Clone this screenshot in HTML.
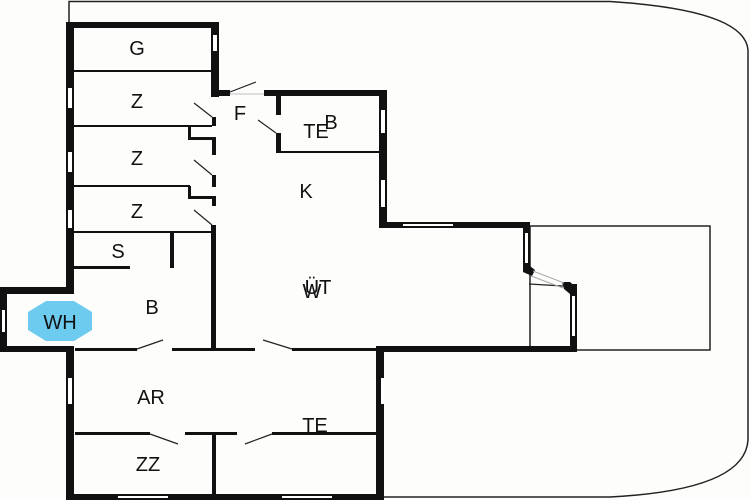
<!DOCTYPE html>
<html><head><style>body{margin:0;background:#fdfdfc}svg{display:block}text{font-family:"Liberation Sans",sans-serif;font-size:20px;fill:#111;text-anchor:middle}</style></head>
<body>
<svg width="750" height="500" viewBox="0 0 750 500" xmlns="http://www.w3.org/2000/svg">
<rect width="750" height="500" fill="#fdfdfc"/>
<g fill="none" stroke="#222" stroke-width="1.5">
<path d="M69,22 V1.5 H610 Q745,10 748,50 V440 Q745,490 610,497 H382"/>
<rect x="530" y="226" width="180" height="124"/>
</g>
<g fill="#111">
<rect x="66" y="22" width="8" height="272"/>
<rect x="66" y="346" width="8" height="154"/>
<rect x="66" y="22" width="153" height="6"/>
<rect x="211" y="22" width="8" height="75"/>
<rect x="211" y="90" width="19" height="6"/>
<rect x="264" y="90" width="123" height="6"/>
<rect x="379" y="90" width="8" height="138"/>
<rect x="379" y="222" width="151" height="6"/>
<rect x="523" y="222" width="7" height="48"/>
<polygon points="523,266 530,266 535,270 532,276 523,272"/>
<polygon points="562,282 570,282 577,288 577,294 570,294 564,289"/>
<rect x="570" y="284" width="7" height="68"/>
<rect x="376" y="346" width="201" height="6"/>
<rect x="376" y="346" width="8" height="154"/>
<rect x="66" y="494" width="318" height="6"/>
<rect x="0" y="287" width="74" height="7"/>
<rect x="0" y="287" width="7" height="65"/>
<rect x="0" y="346" width="74" height="6"/>
<rect x="276" y="95" width="5" height="20"/>
<rect x="276" y="133" width="5" height="20"/>
<rect x="276" y="151" width="104" height="2"/>
<rect x="212" y="117" width="4" height="9"/>
<rect x="188" y="126" width="3" height="12"/>
<rect x="188" y="137" width="28" height="3"/>
<rect x="212" y="137" width="4" height="18"/>
<rect x="212" y="175" width="4" height="12"/>
<rect x="188" y="186" width="3" height="12"/>
<rect x="188" y="196" width="28" height="3"/>
<rect x="212" y="196" width="4" height="10"/>
<rect x="211" y="225" width="5" height="125"/>
<rect x="74" y="70" width="138" height="2"/>
<rect x="74" y="125" width="138" height="2"/>
<rect x="74" y="185" width="116" height="2"/>
<rect x="74" y="231" width="140" height="2"/>
<rect x="74" y="266" width="56" height="3"/>
<rect x="170" y="233" width="4" height="35"/>
<rect x="75" y="348" width="62" height="3"/>
<rect x="172" y="348" width="83" height="3"/>
<rect x="292" y="348" width="86" height="3"/>
<rect x="75" y="432" width="75" height="3"/>
<rect x="185" y="432" width="52" height="3"/>
<rect x="272" y="432" width="106" height="3"/>
<rect x="212" y="432" width="4" height="64"/>
</g>
<g fill="#fff">
<rect x="68" y="88" width="4" height="20"/><rect x="68" y="152" width="4" height="20"/><rect x="68" y="210" width="4" height="18"/>
<rect x="68" y="378" width="4" height="26"/>
<rect x="213" y="35" width="4" height="16"/>
<rect x="381" y="110" width="4" height="23"/><rect x="381" y="180" width="4" height="27"/>
<rect x="381" y="378" width="4" height="26"/>
<rect x="403" y="224" width="50" height="2"/>
<rect x="525" y="233" width="3" height="30"/><rect x="572" y="296" width="3" height="40"/>
<rect x="2" y="310" width="3" height="22"/>
<rect x="118" y="496" width="50" height="2"/><rect x="282" y="496" width="50" height="2"/>
</g>
<g stroke="#222" stroke-width="1.2">
<line x1="230" y1="92" x2="256" y2="82"/><line x1="230" y1="94" x2="264" y2="94" stroke="#ccc"/>
<line x1="258" y1="120" x2="276" y2="133"/>
<line x1="194" y1="103" x2="212" y2="117"/><line x1="194" y1="160" x2="212" y2="175"/><line x1="194" y1="210" x2="212" y2="225"/>
<line x1="137" y1="349" x2="163" y2="340"/><line x1="263" y1="340" x2="292" y2="349"/>
<line x1="150" y1="434" x2="178" y2="444"/><line x1="245" y1="444" x2="272" y2="434"/>
<line x1="529" y1="284" x2="563" y2="286"/>
<line x1="533" y1="271" x2="564" y2="283" stroke="#aaa" stroke-width="1"/>
<line x1="531" y1="276" x2="563" y2="288" stroke="#aaa" stroke-width="1"/>
</g>
<polygon points="46,301 74,301 92,312 92,330 74,341 46,341 28,330 28,312" fill="#6ccbef"/>
<text x="60" y="329" font-size="18">WH</text>
<text x="137" y="55">G</text><text x="137" y="108">Z</text><text x="137" y="165">Z</text><text x="137" y="218">Z</text>
<text x="240" y="120">F</text><text x="331" y="129">B</text><text x="316" y="138">TE</text>
<text x="306" y="198">K</text><text x="118" y="258">S</text><text x="152" y="314">B</text>
<text x="312" y="298">W</text><text x="318" y="294">ÜT</text>
<text x="151" y="404">AR</text><text x="315" y="432">TE</text><text x="148" y="471">ZZ</text>
</svg>
</body></html>
